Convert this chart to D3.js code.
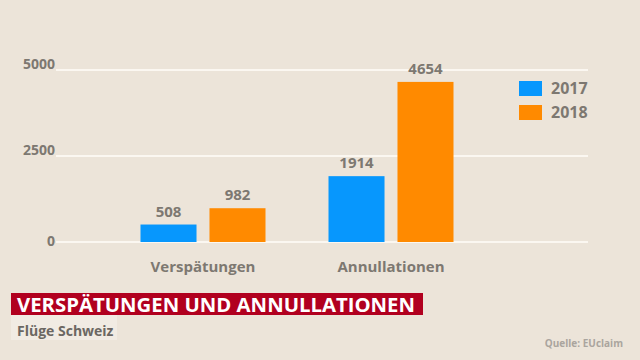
<!DOCTYPE html>
<html>
<head>
<meta charset="utf-8">
<script src="https://cdn.jsdelivr.net/npm/d3@7"></script>
<style>
  body { margin: 0; background: #ece4d9; }
  svg text { font-family: "Open Sans", "Noto Sans", sans-serif; font-weight: 700; }
</style>
</head>
<body>
<svg id="chart" width="640" height="360"></svg>
<script>
// data
var categories = ["Verspätungen", "Annullationen"];
var years = ["2017", "2018"];
var values2017 = [508, 1914];
var values2018 = [982, 4654];
var yTicks = [0, 2500, 5000];
var colors = ["#0797fd", "#ff8a00"];

var rows = categories.map(function(c, i) {
  return {cat: c, vals: [values2017[i], values2018[i]]};
});

var svg = d3.select("#chart");

svg.append("rect")
    .attr("width", 640).attr("height", 360)
    .attr("fill", "#ece4d9");

// scales
var y = d3.scaleLinear()
    .domain([0, 5000])
    .range([242, 70]);

var x0 = d3.scaleBand()
    .domain(categories)
    .range([109, 485])
    .padding(0);

var x1 = d3.scaleBand()
    .domain(years)
    .range([31.5, 156.5])
    .paddingInner(0.188)
    .paddingOuter(0);

// grid lines + y labels
var grid = svg.append("g");
grid.selectAll("line")
    .data(yTicks)
    .enter()
    .append("line")
      .attr("x1", 56)
      .attr("x2", 588)
      .attr("y1", d => y(d))
      .attr("y2", d => y(d))
      .attr("stroke", "#fbf7f1")
      .attr("stroke-width", 2);

grid.selectAll("text")
    .data(yTicks)
    .enter()
    .append("text")
      .attr("x", 55)
      .attr("y", d => d == 0 ? y(d) + 4 : y(d) - 1.5)
      .attr("text-anchor", "end")
      .style("font-size", "14px")
      .style("fill", "#7d7871")
      .text(d => d);

// bars
var groups = svg.append("g")
  .selectAll("g")
  .data(rows)
  .enter()
  .append("g")
    .attr("transform", d => `translate(${x0(d.cat)},0)`);

groups.selectAll("rect")
    .data(d => d.vals.map((v, i) => ({year: years[i], v: v, i: i})))
    .enter()
    .append("rect")
      .attr("x", d => x1(d.year))
      .attr("y", d => y(d.v))
      .attr("width", x1.bandwidth())
      .attr("height", d => y(0) - y(d.v))
      .attr("fill", d => colors[d.i]);

groups.selectAll("text.val")
    .data(d => d.vals.map((v, i) => ({year: years[i], v: v})))
    .enter()
    .append("text")
      .attr("class", "val")
      .attr("x", d => x1(d.year) + x1.bandwidth() / 2)
      .attr("y", d => y(d.v) - 8)
      .attr("text-anchor", "middle")
      .style("font-size", "15px")
      .style("fill", "#7d7871")
      .text(d => d.v);

// category labels
svg.append("g")
  .selectAll("text")
  .data(categories)
  .enter()
  .append("text")
    .attr("x", d => x0(d) + x0.bandwidth() / 2)
    .attr("y", 272)
    .attr("text-anchor", "middle")
    .style("font-size", "15px")
    .style("fill", "#7d7871")
    .text(d => d);

// legend
var legend = svg.append("g")
  .selectAll("g")
  .data(years)
  .enter()
  .append("g")
    .attr("transform", (d, i) => `translate(519, ${81 + i * 24})`);
legend.append("rect")
    .attr("width", 23).attr("height", 15)
    .attr("fill", (d, i) => colors[i]);
legend.append("text")
    .attr("x", 32).attr("y", 13)
    .style("font-size", "16px")
    .style("fill", "#7d7871")
    .text(d => d);

// title block
svg.append("rect")
    .attr("x", 11).attr("y", 293)
    .attr("width", 412).attr("height", 22)
    .attr("fill", "#b1001f");
svg.append("text")
    .attr("x", 17).attr("y", 312)
    .attr("textLength", 398)
    .attr("lengthAdjust", "spacingAndGlyphs")
    .style("font-size", "19px")
    .style("fill", "#ffffff")
    .text("VERSPÄTUNGEN UND ANNULLATIONEN");

svg.append("rect")
    .attr("x", 11).attr("y", 315)
    .attr("width", 106).attr("height", 25)
    .attr("fill", "#f1ebe3");
svg.append("text")
    .attr("x", 17).attr("y", 336)
    .style("font-size", "14px")
    .style("fill", "#6b6762")
    .text("Flüge Schweiz");

svg.append("text")
    .attr("x", 623).attr("y", 347)
    .attr("text-anchor", "end")
    .style("font-size", "10px")
    .style("fill", "#aaa59e")
    .text("Quelle: EUclaim");
</script>
</body>
</html>
